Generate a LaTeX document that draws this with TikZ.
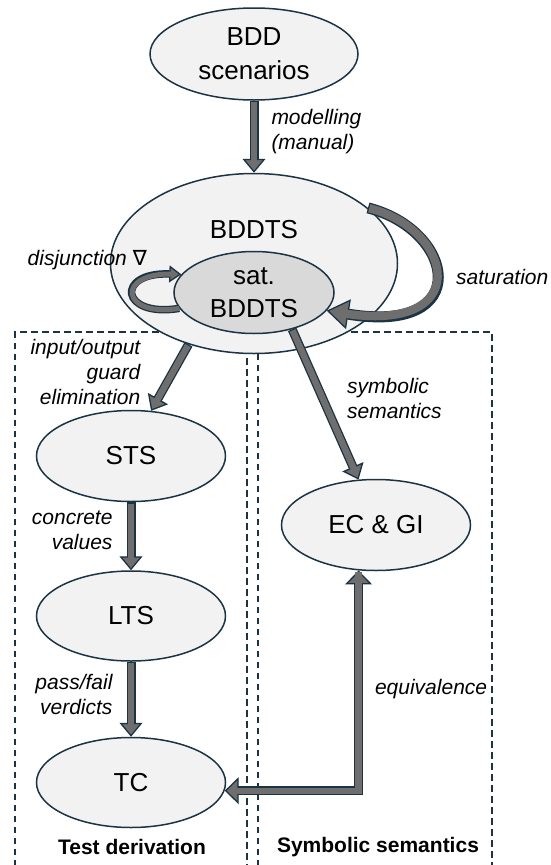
\documentclass[tikz,border=0pt]{standalone}
\usepackage{fontspec}
\setmainfont{Liberation Sans}
\newfontfamily\symfont{DejaVu Sans}
\usepackage{xcolor}
\usetikzlibrary{shapes.geometric, arrows.meta, positioning}

\definecolor{edgeblue}{HTML}{1C3344}
\definecolor{modelfill}{HTML}{F2F2F2}
\definecolor{satfill}{HTML}{D9D9D9}
\definecolor{arrowgrey}{HTML}{6E6E6E}

\begin{document}
\begin{tikzpicture}[
    x=1pt, y=-1pt,
    every node/.style={align=center},
    model/.style={ellipse, draw=edgeblue, line width=1.5pt, fill=modelfill, inner sep=0pt, minimum width=189pt, minimum height=91pt, font=\fontsize{26}{34}\selectfont},
    lbl/.style={font=\itshape\fontsize{21}{25}\selectfont, inner sep=0pt},
    lanetitle/.style={font=\bfseries\fontsize{21}{25}\selectfont, inner sep=0pt},
    lane/.style={draw=edgeblue, line width=1.6pt, dash pattern=on 6.5pt off 4.5pt},
    blockarrow/.style={draw=edgeblue, line width=9pt, -{Triangle[length=14pt, width=23pt, line width'=1.3pt, fill=arrowgrey]}, postaction={draw=arrowgrey, line width=6.4pt, arrows=-, shorten >=9pt, shorten <=1.3pt}},
    bigarrow/.style={draw=edgeblue, line width=11pt, -{Triangle[length=22pt, width=30pt, line width'=1.3pt, fill=arrowgrey]}, postaction={draw=arrowgrey, line width=8.4pt, arrows=-, shorten >=15pt, shorten <=1.3pt}},
    looparrow/.style={draw=edgeblue, line width=7.5pt, -{Triangle[length=12pt, width=17pt, line width'=1.3pt, fill=arrowgrey]}, postaction={draw=arrowgrey, line width=5pt, arrows=-, shorten >=8pt}}
]
\useasboundingbox (0,0) rectangle (551,865);

% Lanes
\draw [lane] (15,866) |- (247,332) -- (247,866);
\draw [lane] (258,866) |- (492,332) -- (492,866);
\node (testlane) [lanetitle] at (132,847) {Test derivation};
\node (symlane) [lanetitle] at (378,847) {Symbolic semantics};

% Models
\node (bdd) [model, minimum width=208pt, minimum height=92pt] at (254,54) {BDD\\scenarios};
\node (bddts) [model, minimum width=287pt, minimum height=180pt, below=72pt of bdd,
    label={[name=bddtsname, yshift=34pt, font=\fontsize{26}{34}\selectfont]center:BDDTS}] {};
\node (sat) [model, fill=satfill, minimum width=160pt, minimum height=82pt, font=\fontsize{26}{33}\selectfont] at ([yshift=-29pt]bddts.center) {sat.\\BDDTS};
\node (sts) [model] at (131,456) {STS};
\node (lts) [model, minimum height=90pt, below=68pt of sts] {LTS};
\node (tc) [model, minimum height=90pt, below=75pt of lts] {TC};
\node (ec) [model] at (376,525) {EC \& GI};
\node (disjlbl) [lbl, anchor=east] at (147,260) {disjunction {\symfont\upshape ∇}};

% Arrows
\draw [blockarrow] (bdd) -- node[lbl, pos=.43, right=13pt, align=left] (modlbl) {modelling\\(manual)} (bddts);
\draw [looparrow] (sat.192) .. controls (120,318) and (115,272) .. (sat.166);
\draw [bigarrow] (bddts.26) .. controls (455,230) and (475,335) .. node[lbl, pos=.5, right=15pt] (satlbl) {saturation} (sat.-14);
\draw [blockarrow] (bddts.231) -- node[lbl, pos=.42, left=28pt, align=right] (guardlbl) {input/output\\guard\\elimination} (sts.66);
\draw [blockarrow] (sat.-44) -- node[lbl, pos=.46, right=20pt, align=left] (semlbl) {symbolic\\semantics} (ec.111);
\draw [blockarrow] (sts) -- node[lbl, pos=.41, left=14pt, align=right] (conclbl) {concrete\\values} (lts);
\draw [blockarrow] (lts) -- node[lbl, pos=.44, left=14pt, align=right] (verdlbl) {pass/fail\\verdicts} (tc);
\draw [blockarrow, {Triangle[length=14pt, width=27pt, line width'=1.3pt, fill=arrowgrey]}-{Triangle[length=14pt, width=27pt, line width'=1.3pt, fill=arrowgrey]},
    postaction={shorten <=9pt}] (ec.249) |- node[lbl, pos=.27, right=12pt] (eqlbl) {equivalence} (tc.-5);

\end{tikzpicture}
\end{document}
